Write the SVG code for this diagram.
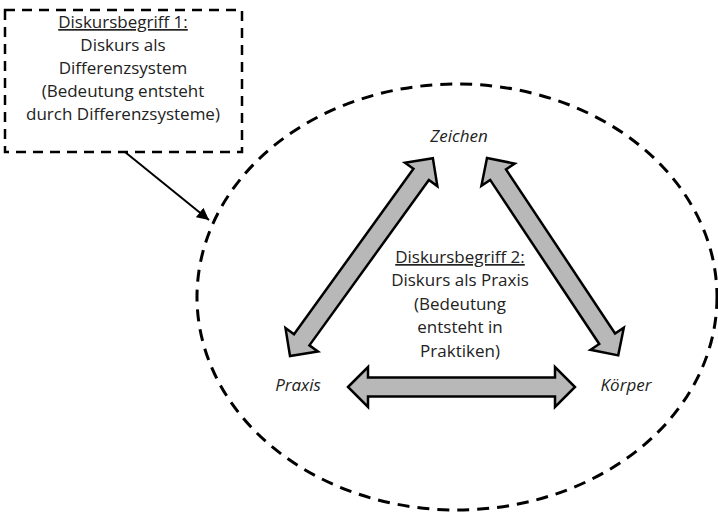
<svg xmlns="http://www.w3.org/2000/svg" width="718" height="512" viewBox="0 0 718 512">
<defs>
<style>
.t{font-family:"Open Sans","Noto Sans","Liberation Sans",sans-serif;font-size:17px;fill:#222;text-anchor:middle}
.i{font-style:italic}
.u{text-decoration:underline}
.dbar{fill:#b8b8b8;stroke:#000;stroke-width:2.5;stroke-linejoin:miter}
.dash{fill:none;stroke:#000;stroke-width:3;stroke-dasharray:12 8}
</style>
<marker id="ah" viewBox="0 0 10 10" refX="10" refY="5" markerWidth="6" markerHeight="6" orient="auto" markerUnits="strokeWidth">
<path d="M0,0 L10,5 L0,10 z" fill="#000"/>
</marker>
</defs>
<rect width="718" height="512" fill="#fff"/>
<g id="diskursbegriff2">
<ellipse class="dash" cx="457" cy="297" rx="260" ry="213"/>
<text class="t u" x="460" y="263">Diskursbegriff 2:</text>
<text class="t" x="460" y="286">Diskurs als Praxis</text>
<text class="t" x="460" y="310">(Bedeutung</text>
<text class="t" x="460" y="333">entsteht in</text>
<text class="t" x="460" y="357">Praktiken)</text>
</g>
<g id="diskursbegriff1">
<rect x="5" y="10" width="237" height="142" fill="#fff" stroke="#000" stroke-width="2.5" stroke-dasharray="10 7"/>
<text class="t u" x="123" y="28">Diskursbegriff 1:</text>
<text class="t" x="123" y="51">Diskurs als</text>
<text class="t" x="123" y="74">Differenzsystem</text>
<text class="t" x="123" y="97">(Bedeutung entsteht</text>
<text class="t" x="123" y="120">durch Differenzsysteme)</text>
</g>
<g id="zeichen"><text class="t i" x="459" y="142">Zeichen</text></g>
<g id="praxis"><text class="t i" x="298" y="391">Praxis</text></g>
<g id="koerper"><text class="t i" x="626" y="391">Körper</text></g>
<g id="connectors">
<line x1="125" y1="152" x2="209" y2="220" stroke="#000" stroke-width="2" marker-end="url(#ah)"/>
<path class="dbar" transform="translate(290,356) rotate(-54.16)" d="M0,0 L20,-20 L20,-9.5 L224,-9.5 L224,-20 L244,0 L224,20 L224,9.5 L20,9.5 L20,20 Z"/>
<path class="dbar" transform="translate(487,158) rotate(56.38)" d="M0,0 L20,-20 L20,-9.5 L217,-9.5 L217,-20 L237,0 L217,20 L217,9.5 L20,9.5 L20,20 Z"/>
<path class="dbar" transform="translate(348,387)" d="M0,0 L20,-20 L20,-9.5 L207,-9.5 L207,-20 L227,0 L207,20 L207,9.5 L20,9.5 L20,20 Z"/>
</g>
</svg>
